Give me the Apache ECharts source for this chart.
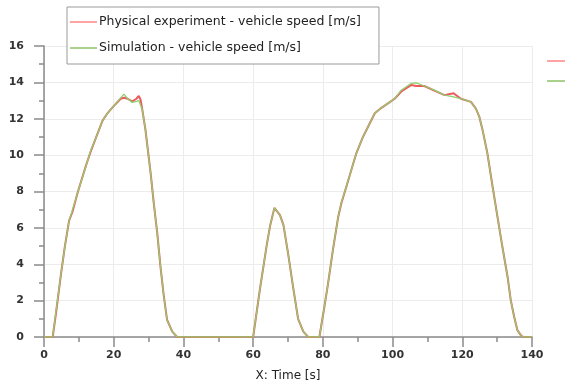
<!DOCTYPE html>
<html>
<head>
<meta charset="utf-8">
<script src="https://cdn.jsdelivr.net/npm/echarts@6/dist/echarts.min.js"></script>
<style>
  html, body { margin: 0; padding: 0; background: #fff; }
  #chart { width: 565px; height: 388px; }
</style>
</head>
<body>
<div id="chart"></div>
<script>
// time points [s]
var timeData = [0, 2.5, 3.5, 4.9, 6, 7.2, 8.2, 9.6, 12, 13.4, 15, 16.8, 18.2, 19.1, 20.5, 22, 22.9, 24, 25.3, 26.5, 27.2, 27.7,
  28.2, 29.1, 30.6, 31.5, 32.5, 33.4, 34.4, 35.3, 36.8, 38.2, 60, 62, 63.9, 64.9, 66.1, 67.7, 68.7, 70.1, 71.5, 72.9, 74.4, 75.8,
  79, 80.3, 81.5, 82.9, 84.4, 85.3, 86.8, 89.6, 91.5, 94.9, 96.8, 99.1, 100.6, 102.5, 105.3, 106.8, 109.1, 112, 114.9, 117.5,
  119.6, 122.5, 123.9, 124.9, 125.8, 127.2, 128.7, 130.1, 131.5, 133, 133.9, 134.9, 135.8, 137, 137.6, 140];
// physical experiment speed [m/s]
var experimentSpeed = [0, 0, 1.4, 3.5, 5.0, 6.4, 6.9, 7.9, 9.4, 10.2, 11.0, 11.9, 12.3, 12.5, 12.8, 13.1, 13.15, 13.1, 12.95, 13.1, 13.25, 13.05,
  12.5, 11.4, 9.0, 7.35, 5.7, 3.9, 2.2, 0.95, 0.3, 0, 0, 2.7, 5.05, 6.15, 7.1, 6.7, 6.15, 4.5, 2.7, 1.0, 0.3, 0,
  0, 1.5, 2.95, 4.8, 6.6, 7.35, 8.3, 10.1, 11.0, 12.3, 12.6, 12.9, 13.1, 13.5, 13.85, 13.8, 13.8, 13.55, 13.3, 13.4,
  13.1, 12.93, 12.56, 12.1, 11.4, 10.1, 8.26, 6.6, 4.96, 3.3, 2.03, 1.1, 0.38, 0.05, 0, 0];
// simulation speed [m/s]
var simulationSpeed = [0, 0, 1.5, 3.5, 5.0, 6.4, 7.0, 7.9, 9.36, 10.27, 11.0, 11.9, 12.3, 12.5, 12.8, 13.15, 13.35, 13.1, 12.9, 12.95, 13.0, 13.0,
  12.5, 11.4, 9.0, 7.35, 5.7, 3.9, 2.2, 0.93, 0.3, 0, 0, 2.7, 5.05, 6.15, 7.1, 6.7, 6.15, 4.5, 2.7, 1.0, 0.3, 0,
  0, 1.5, 2.95, 4.8, 6.6, 7.4, 8.3, 10.1, 11.0, 12.3, 12.6, 12.9, 13.1, 13.57, 13.94, 13.97, 13.8, 13.57, 13.3, 13.2,
  13.1, 12.93, 12.56, 12.1, 11.4, 10.1, 8.26, 6.6, 4.96, 3.3, 2.03, 1.1, 0.38, 0.05, 0, 0];
var xTicks = { min: 0, max: 140, interval: 20 };
var yTicks = { min: 0, max: 16, interval: 2 };
var seriesNames = ['Physical experiment - vehicle speed [m/s]', 'Simulation - vehicle speed [m/s]'];

function pairs(xs, ys) {
  return xs.map(function (x, i) { return [x, ys[i]]; });
}

var chart = echarts.init(document.getElementById('chart'));
var font = 'DejaVu Sans';
var axisCommon = {
  axisLine: { show: true, onZero: false, lineStyle: { color: '#8a8a8a', width: 1.5 } },
  axisTick: { show: true, length: 10, lineStyle: { color: '#8a8a8a', width: 1.5 } },
  minorTick: { show: true, splitNumber: 2, length: 5, lineStyle: { color: '#8a8a8a', width: 1.5 } },
  splitLine: { show: true, lineStyle: { color: '#ececec', width: 1 } },
  axisLabel: { color: '#333', fontSize: 11, fontFamily: font, fontWeight: 'bold' }
};
// legend icons: thin solid lines in lighter tints
var legendItems = [
  { name: seriesNames[0], icon: 'rect', itemStyle: { color: '#ffa3a3', borderWidth: 0 }, lineStyle: { width: 2, color: '#ffa3a3' } },
  { name: seriesNames[1], icon: 'rect', itemStyle: { color: '#a9d18c', borderWidth: 0 }, lineStyle: { width: 2, color: '#a9d18c' } }
];

var option = {
  animation: false,
  grid: { left: 44, right: 33, top: 46, bottom: 51 },
  legend: [{
    orient: 'vertical',
    left: 67, top: 7,
    padding: [7, 18, 8, 3],
    itemGap: 10,
    itemWidth: 27, itemHeight: 2,
    backgroundColor: '#fff',
    borderColor: '#9a9a9a', borderWidth: 1,
    textStyle: { color: '#222', fontSize: 12.5, fontFamily: font, lineHeight: 16, padding: [0, 0, 0, -3] },
    data: legendItems
  }, {
    orient: 'vertical',
    left: 542, top: 48,
    itemGap: 4,
    itemWidth: 25, itemHeight: 2,
    textStyle: { fontSize: 13, lineHeight: 16 },
    formatter: function () { return ' '; },
    data: legendItems
  }],
  xAxis: Object.assign({}, axisCommon, {
    type: 'value', min: xTicks.min, max: xTicks.max, interval: xTicks.interval,
    name: 'X: Time [s]', nameLocation: 'middle', nameGap: 33,
    nameTextStyle: { color: '#222', fontSize: 12, fontFamily: font },
    axisLabel: Object.assign({}, axisCommon.axisLabel, { margin: 13 })
  }),
  yAxis: Object.assign({}, axisCommon, {
    type: 'value', min: yTicks.min, max: yTicks.max, interval: yTicks.interval,
    axisLabel: Object.assign({}, axisCommon.axisLabel, { margin: 20 })
  }),
  series: [{
    name: seriesNames[0], type: 'line', symbol: 'none', z: 2,
    data: pairs(timeData, experimentSpeed),
    lineStyle: { color: '#ee5a5a', width: 2 }, itemStyle: { color: '#ee5a5a' }
  }, {
    name: seriesNames[1], type: 'line', symbol: 'none', z: 3,
    data: pairs(timeData, simulationSpeed),
    lineStyle: { color: '#8fcd72', width: 1.3 }, itemStyle: { color: '#8fcd72' }
  }]
};
chart.setOption(option);
</script>
</body>
</html>
